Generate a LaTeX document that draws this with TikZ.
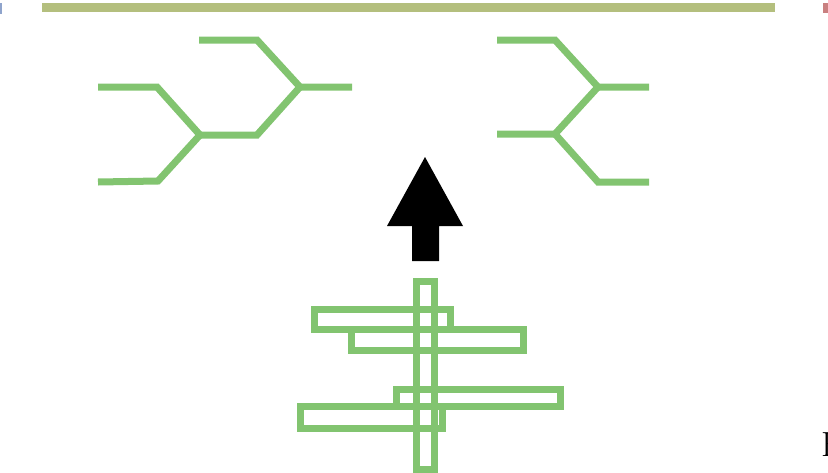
\documentclass[tikz,border=0pt]{standalone}
\usepackage{tikz}
\definecolor{leaf}{RGB}{130,196,112}
\definecolor{olive}{RGB}{180,191,126}
\definecolor{markblue}{RGB}{143,164,204}
\definecolor{markred}{RGB}{201,128,128}
\tikzset{
  fork/.style={draw=leaf, line width=7pt, line join=miter, line cap=butt},
  bar/.style={draw=leaf, line width=7pt},
}
\begin{document}
\begin{tikzpicture}[x=1pt,y=-1pt]
\useasboundingbox (0,0) rectangle (828,472);
% top rule and side marks
\draw[olive, line width=9pt] (42,7.5) -- (775,7.5);
\fill[markblue] (0,3) rectangle (2,14);
\fill[markred] (823,3) rectangle (828,13);
% left fork
\coordinate (la) at (199,40);
\coordinate (lb) at (257,40);
\coordinate (lc) at (300,87);
\coordinate (ld) at (352,87);
\coordinate (le) at (257,135);
\coordinate (lf) at (200,135);
\coordinate (lg) at (157,87);
\coordinate (lh) at (98,87);
\coordinate (li) at (158,181);
\coordinate (lj) at (98,182);
\draw[fork] (la) -- (lb) -- (lc) -- (ld);
\draw[fork] (lc) -- (le) -- (lf);
\draw[fork] (lh) -- (lg) -- (lf) -- (li) -- (lj);
% right fork
\coordinate (ra) at (497,40);
\coordinate (rb) at (555,40);
\coordinate (rc) at (598,87);
\coordinate (rd) at (649,87);
\coordinate (re) at (555,134);
\coordinate (rf) at (497,134);
\coordinate (rg) at (598,182);
\coordinate (rh) at (649,182);
\draw[fork] (ra) -- (rb) -- (rc) -- (rd);
\draw[fork] (rc) -- (re) -- (rf);
\draw[fork] (re) -- (rg) -- (rh);
% arrow
\fill[black] (425,157) -- (463,226) -- (439,226) -- (439,261) -- (412,261) -- (412,226) -- (387,226) -- cycle;
% bars
\draw[bar] (416.5,281.5) rectangle (434.5,469);
\draw[bar] (314.5,309.5) rectangle (450.5,329.5);
\draw[bar] (351.5,329.5) rectangle (523.5,350.5);
\draw[bar] (396.5,389.5) rectangle (560.5,406.5);
\draw[bar] (300.5,406.5) rectangle (442.5,428.5);
% clipped text at right edge
\node[anchor=base west, inner sep=0pt, font=\fontsize{35}{40}\selectfont] (edge) at (821,456) {E};
\end{tikzpicture}
\end{document}
